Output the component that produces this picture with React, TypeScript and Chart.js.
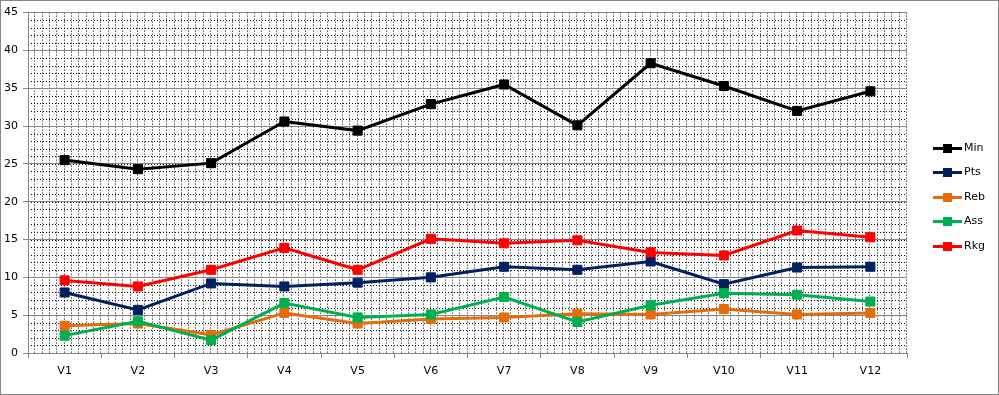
import React, { useEffect, useRef } from "react";
import { Chart, registerables } from "chart.js";

Chart.register(...registerables);

const categories = ["V1", "V2", "V3", "V4", "V5", "V6", "V7", "V8", "V9", "V10", "V11", "V12"];
const minData = [25.5, 24.3, 25.1, 30.6, 29.4, 32.9, 35.5, 30.1, 38.3, 35.3, 32.0, 34.6];
const ptsData = [8.0, 5.7, 9.2, 8.8, 9.3, 10.0, 11.4, 11.0, 12.1, 9.1, 11.3, 11.4];
const rebData = [3.6, 3.9, 2.4, 5.3, 3.9, 4.5, 4.7, 5.2, 5.1, 5.8, 5.1, 5.3];
const assData = [2.3, 4.2, 1.7, 6.6, 4.7, 5.1, 7.4, 4.1, 6.3, 7.9, 7.7, 6.8];
const rkgData = [9.6, 8.8, 11.0, 13.9, 11.0, 15.1, 14.5, 14.9, 13.3, 12.9, 16.2, 15.3];
const seriesNames = ["Min", "Pts", "Reb", "Ass", "Rkg"];
const seriesColors = ["#000000", "#002060", "#E46C0A", "#00B050", "#FF0000"];
const yMin = 0;
const yMax = 45;
const yMajorStep = 5;
const yMinorStep = 1;
const xMinorPerCategory = 10;

const GRAY = "#868686";
const FONT = "'DejaVu Sans', Verdana, sans-serif";

const minorGridPlugin = {
  id: "minorGrid",
  beforeDraw(chart: any) {
    const { ctx, chartArea } = chart;
    const { left, right, top, bottom } = chartArea;
    const yScale = chart.scales.y;
    ctx.save();
    ctx.strokeStyle = "#000000";
    ctx.lineWidth = 1;
    ctx.setLineDash([1, 2]);
    for (let v = yMin + yMinorStep; v < yMax; v += yMinorStep) {
      const y = Math.round(yScale.getPixelForValue(v)) + 0.5;
      ctx.beginPath();
      ctx.moveTo(left, y);
      ctx.lineTo(right, y);
      ctx.stroke();
    }
    const n = categories.length * xMinorPerCategory;
    for (let i = 1; i <= n; i++) {
      const x = Math.round(left + ((right - left) * i) / n) - 0.5;
      ctx.beginPath();
      ctx.moveTo(x, top);
      ctx.lineTo(x, bottom);
      ctx.stroke();
    }
    ctx.restore();
  },
};

export default function App() {
  const canvasRef = useRef<HTMLCanvasElement | null>(null);

  useEffect(() => {
    document.body.style.margin = "0";
    const canvas = canvasRef.current;
    if (!canvas) return;
    const allData = [minData, ptsData, rebData, assData, rkgData];
    const chart = new Chart(canvas, {
      type: "line",
      data: {
        labels: categories,
        datasets: allData.map((d, i) => ({
          label: seriesNames[i],
          data: d,
          borderColor: seriesColors[i],
          backgroundColor: seriesColors[i],
          borderWidth: 3,
          pointStyle: "rect",
          pointRadius: 6.4,
          pointBorderWidth: 1,
          pointBackgroundColor: seriesColors[i],
          pointBorderColor: seriesColors[i],
          tension: 0,
          fill: false,
          order: allData.length - i,
        })),
      },
      options: {
        animation: false,
        responsive: false,
        maintainAspectRatio: false,
        devicePixelRatio: 1,
        layout: { padding: { left: 0, top: 7, right: 91, bottom: 0 } },
        plugins: {
          legend: { display: false },
          tooltip: { enabled: false },
        },
        scales: {
          x: {
            type: "category",
            offset: true,
            border: { display: true, color: GRAY, width: 1 },
            grid: {
              display: true,
              offset: true,
              drawOnChartArea: false,
              drawTicks: true,
              tickLength: 5,
              color: GRAY,
            },
            ticks: {
              color: "#000",
              font: { family: FONT, size: 11 },
              padding: 7,
              maxRotation: 0,
              autoSkip: false,
            },
            afterFit: (s: any) => {
              s.height = 41;
            },
          },
          y: {
            min: yMin,
            max: yMax,
            border: { display: true, color: GRAY, width: 1 },
            grid: {
              color: GRAY,
              lineWidth: 1,
              drawTicks: true,
              tickLength: 5,
            },
            ticks: {
              stepSize: yMajorStep,
              color: "#000",
              font: { family: FONT, size: 11 },
              padding: 5,
            },
            afterFit: (s: any) => {
              s.width = 27;
            },
          },
        },
      },
      plugins: [minorGridPlugin],
    });
    return () => chart.destroy();
  }, []);

  return (
    <div
      style={{
        position: "relative",
        width: 999,
        height: 395,
        boxSizing: "border-box",
        border: `1px solid ${GRAY}`,
        background: "#fff",
        overflow: "hidden",
      }}
    >
      <canvas ref={canvasRef} width={997} height={393} style={{ display: "block", width: 997, height: 393 }} />
      <div style={{ position: "absolute", left: 932, top: 135, fontFamily: FONT, fontSize: 11, color: "#000" }}>
        {seriesNames.map((name, i) => (
          <div
            key={name}
            style={{ position: "absolute", left: 0, top: i * 24.4, height: 24, width: 60, whiteSpace: "nowrap" }}
          >
            <span
              style={{
                position: "absolute",
                left: 0,
                top: 11,
                width: 29,
                height: 3,
                background: seriesColors[i],
              }}
            />
            <span
              style={{
                position: "absolute",
                left: 10,
                top: 8,
                width: 9,
                height: 9,
                background: seriesColors[i],
              }}
            />
            <span style={{ position: "absolute", left: 31, top: 5, lineHeight: "14px" }}>{name}</span>
          </div>
        ))}
      </div>
    </div>
  );
}
